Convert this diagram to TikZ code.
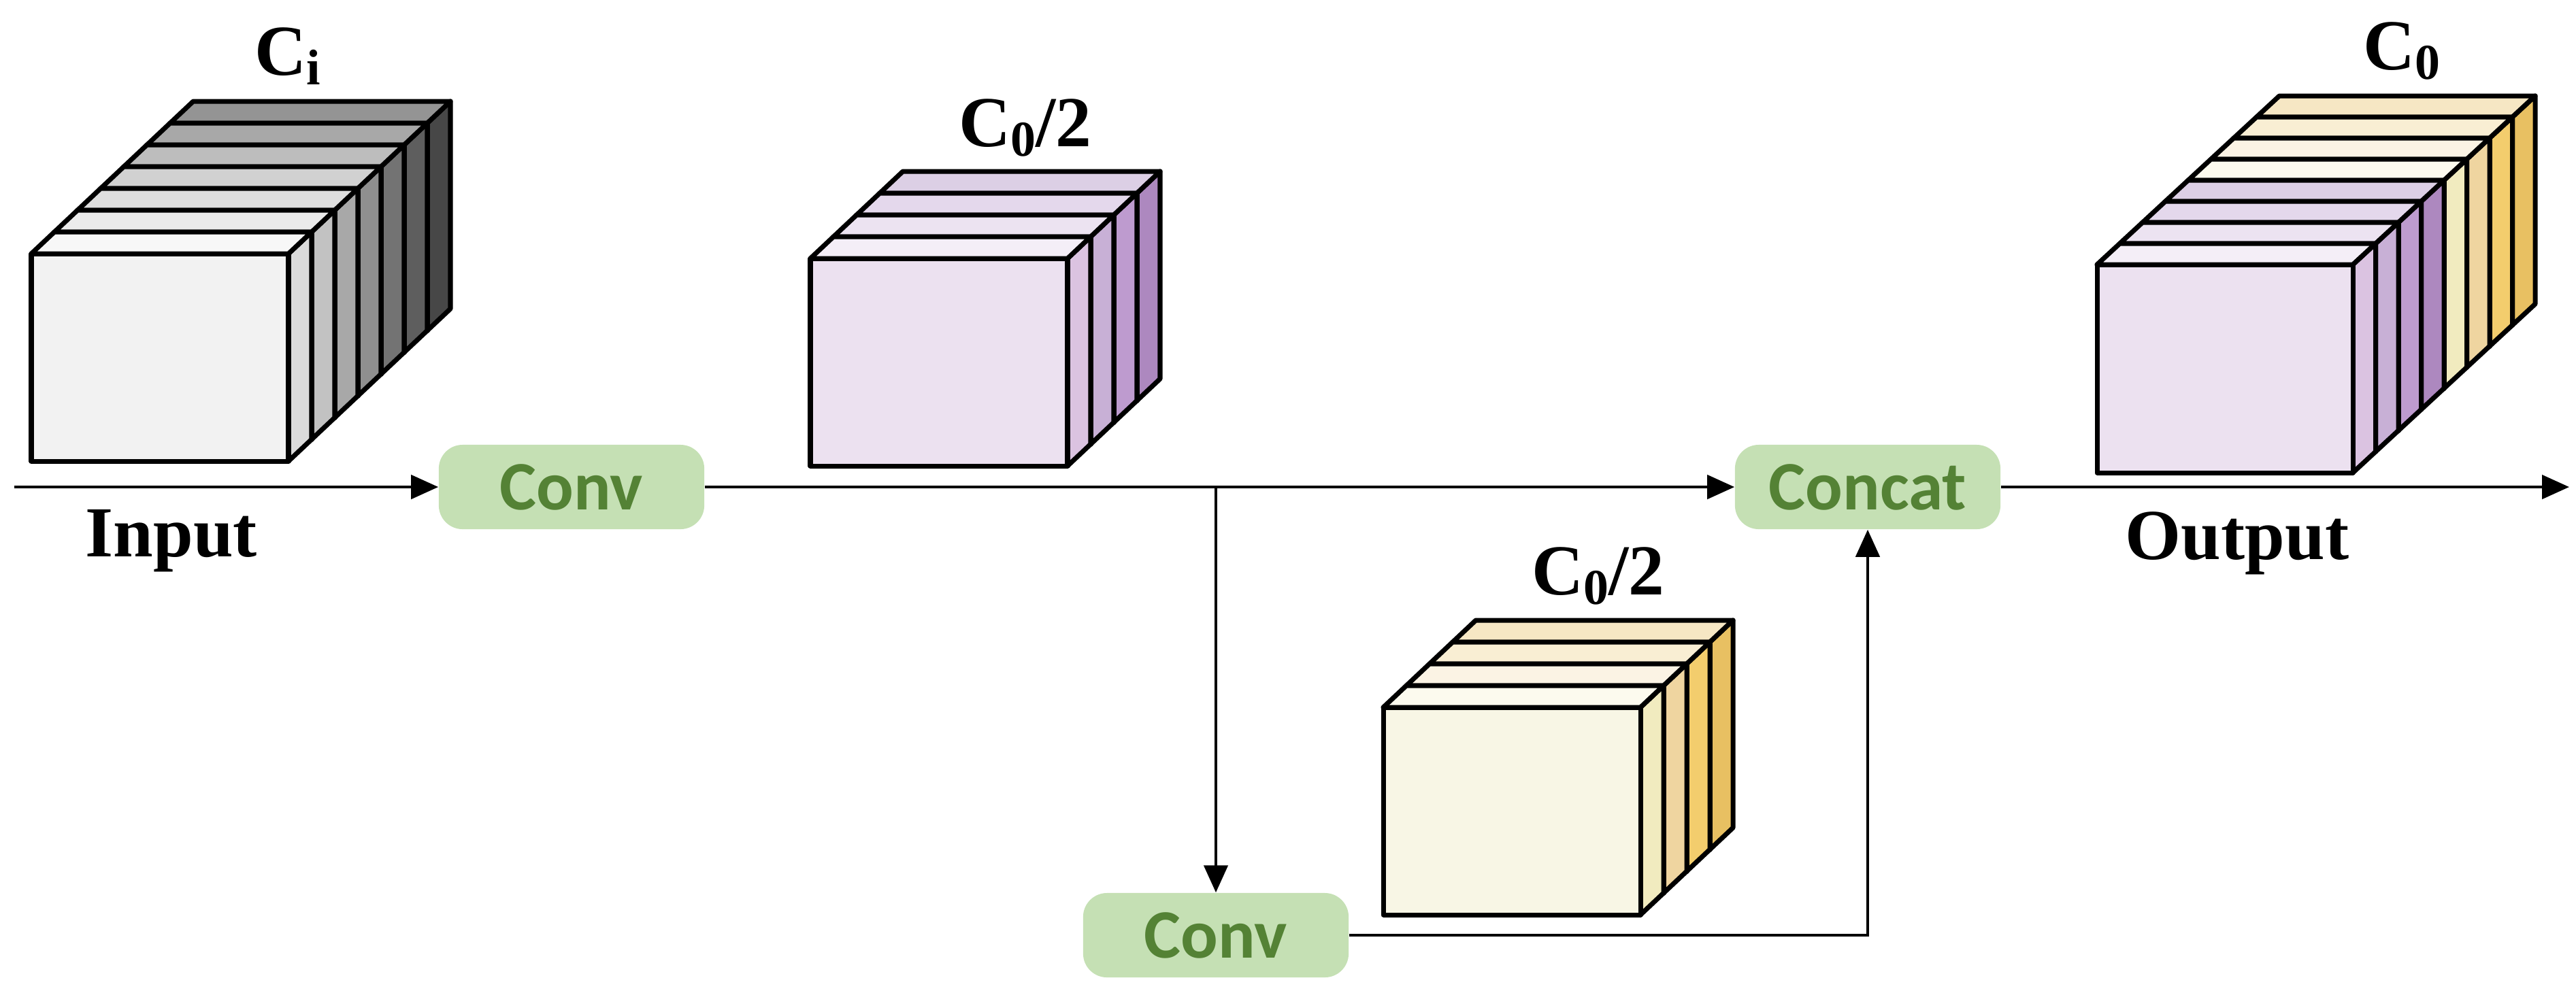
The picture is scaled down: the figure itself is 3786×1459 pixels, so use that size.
\documentclass[tikz,border=0pt]{standalone}
\usepackage{fontspec}
\setmainfont{Liberation Serif}
\newfontfamily\opfont{Carlito}
\usetikzlibrary{arrows.meta}

\definecolor{opfill}{HTML}{C5E0B4}
\definecolor{optext}{HTML}{548235}
\definecolor{grayfront}{HTML}{F2F2F2}
\definecolor{purfront}{HTML}{ECE1F0}
\definecolor{purtopA}{HTML}{F4EEF7}
\definecolor{purtopB}{HTML}{ECE3F1}
\definecolor{purtopC}{HTML}{E4D8EC}
\definecolor{purtopD}{HTML}{DCCFE5}
\definecolor{pursideA}{HTML}{DBC3E1}
\definecolor{pursideB}{HTML}{C8B0D6}
\definecolor{pursideC}{HTML}{BE9BCF}
\definecolor{pursideD}{HTML}{AD88BF}
\definecolor{yelfront}{HTML}{F8F6E5}
\definecolor{yeltopA}{HTML}{FCFAEE}
\definecolor{yeltopB}{HTML}{FBF3E4}
\definecolor{yeltopC}{HTML}{F9EED3}
\definecolor{yeltopD}{HTML}{F6E7C4}
\definecolor{yelsideA}{HTML}{F1EBBF}
\definecolor{yelsideB}{HTML}{EFD5A0}
\definecolor{yelsideC}{HTML}{F3CD6D}
\definecolor{yelsideD}{HTML}{E8C062}

\newcommand{\chsub}[1]{\raisebox{-0.3ex}{\fontsize{21}{21}\selectfont #1}}

\tikzset{
    slice/.style={draw=black, line width=2pt, line join=round},
    opbox/.style={fill=opfill, text=optext, rounded corners=0.35cm, minimum width=3.9cm, minimum height=1.24cm, inner sep=0pt, font=\opfont\bfseries\fontsize{29}{29}\selectfont},
    flow/.style={line width=1.3pt, -{Triangle[length=4mm, width=3.5mm]}},
    chlabel/.style={inner sep=0pt, anchor=base, font=\bfseries\fontsize{30}{30}\selectfont},
    iolabel/.style={inner sep=0pt, anchor=base, font=\bfseries\fontsize{30}{30}\selectfont}
}

\begin{document}
\begin{tikzpicture}[x=0.01cm, y=-0.01cm]
    \useasboundingbox (0,0) rectangle (3786,1459);

    \pgfmathsetmacro{\cubex}{378}
    \pgfmathsetmacro{\cubey}{305}
    \pgfmathsetmacro{\stepx}{34}
    \pgfmathsetmacro{\stepy}{32}

    % input tensor
    \pgfmathsetmacro{\cubeleft}{46}
    \pgfmathsetmacro{\cubebot}{678}
    \foreach \k/\tc/\sc in {6/black!42/black!72, 5/black!34/black!63, 4/black!26/black!55, 3/black!18/black!44, 2/black!13/black!34, 1/black!8/black!24, 0/black!3/black!14}{
        \draw[slice, fill=\sc] (\cubeleft+\k*\stepx+\cubex, \cubebot-\k*\stepy) -- ++(0,-\cubey) -- ++(\stepx,-\stepy) -- ++(0,\cubey) -- cycle;
        \draw[slice, fill=\tc] (\cubeleft+\k*\stepx, \cubebot-\k*\stepy-\cubey) -- ++(\stepx,-\stepy) -- ++(\cubex,0) -- ++(-\stepx,\stepy) -- cycle;
        \draw[slice, fill=grayfront] (\cubeleft+\k*\stepx, \cubebot-\k*\stepy) rectangle ++(\cubex,-\cubey);
    }
    \node[chlabel] (ci) at (423,110) {C\chsub{i}};

    % first half
    \pgfmathsetmacro{\cubeleft}{1191}
    \pgfmathsetmacro{\cubebot}{685}
    \foreach \k/\tc/\sc in {3/purtopD/pursideD, 2/purtopC/pursideC, 1/purtopB/pursideB, 0/purtopA/pursideA}{
        \draw[slice, fill=\sc] (\cubeleft+\k*\stepx+\cubex, \cubebot-\k*\stepy) -- ++(0,-\cubey) -- ++(\stepx,-\stepy) -- ++(0,\cubey) -- cycle;
        \draw[slice, fill=\tc] (\cubeleft+\k*\stepx, \cubebot-\k*\stepy-\cubey) -- ++(\stepx,-\stepy) -- ++(\cubex,0) -- ++(-\stepx,\stepy) -- cycle;
        \draw[slice, fill=purfront] (\cubeleft+\k*\stepx, \cubebot-\k*\stepy) rectangle ++(\cubex,-\cubey);
    }
    \node[chlabel] (chalfa) at (1507,215) {C\chsub{0}/2};

    % second half
    \pgfmathsetmacro{\cubeleft}{2033}
    \pgfmathsetmacro{\cubebot}{1345}
    \foreach \k/\tc/\sc in {3/yeltopD/yelsideD, 2/yeltopC/yelsideC, 1/yeltopB/yelsideB, 0/yeltopA/yelsideA}{
        \draw[slice, fill=\sc] (\cubeleft+\k*\stepx+\cubex, \cubebot-\k*\stepy) -- ++(0,-\cubey) -- ++(\stepx,-\stepy) -- ++(0,\cubey) -- cycle;
        \draw[slice, fill=\tc] (\cubeleft+\k*\stepx, \cubebot-\k*\stepy-\cubey) -- ++(\stepx,-\stepy) -- ++(\cubex,0) -- ++(-\stepx,\stepy) -- cycle;
        \draw[slice, fill=yelfront] (\cubeleft+\k*\stepx, \cubebot-\k*\stepy) rectangle ++(\cubex,-\cubey);
    }
    \node[chlabel] (chalfb) at (2349,874) {C\chsub{0}/2};

    % output tensor
    \pgfmathsetmacro{\cubex}{376}
    \pgfmathsetmacro{\cubey}{306}
    \pgfmathsetmacro{\stepx}{33.5}
    \pgfmathsetmacro{\stepy}{31}
    \pgfmathsetmacro{\cubeleft}{3082}
    \pgfmathsetmacro{\cubebot}{695}
    \foreach \k/\tc/\sc in {7/yeltopD/yelsideD, 6/yeltopC/yelsideC, 5/yeltopB/yelsideB, 4/yeltopA/yelsideA, 3/purtopD/pursideD, 2/purtopC/pursideC, 1/purtopB/pursideB, 0/purtopA/pursideA}{
        \draw[slice, fill=\sc] (\cubeleft+\k*\stepx+\cubex, \cubebot-\k*\stepy) -- ++(0,-\cubey) -- ++(\stepx,-\stepy) -- ++(0,\cubey) -- cycle;
        \draw[slice, fill=\tc] (\cubeleft+\k*\stepx, \cubebot-\k*\stepy-\cubey) -- ++(\stepx,-\stepy) -- ++(\cubex,0) -- ++(-\stepx,\stepy) -- cycle;
        \draw[slice, fill=purfront] (\cubeleft+\k*\stepx, \cubebot-\k*\stepy) rectangle ++(\cubex,-\cubey);
    }
    \node[chlabel] (cout) at (3530,102) {C\chsub{0}};

    % operations
    \node[opbox] (conva) at (840,716) {Conv};
    \node[opbox] (concat) at (2745,716) {Concat};
    \node[opbox] (convb) at (1787,1375) {Conv};
    \coordinate (in) at (21,716);
    \coordinate (split) at (1787,716);
    \coordinate (out) at (3776,716);

    \draw[flow] (in) -- (conva);
    \draw[flow] (conva) -- (concat);
    \draw[flow] (split) -- (convb);
    \draw[flow] (convb) -| (concat);
    \draw[flow] (concat) -- (out);

    \node[iolabel] (input) at (252,818) {Input};
    \node[iolabel] (output) at (3288,822) {Output};
\end{tikzpicture}
\end{document}
